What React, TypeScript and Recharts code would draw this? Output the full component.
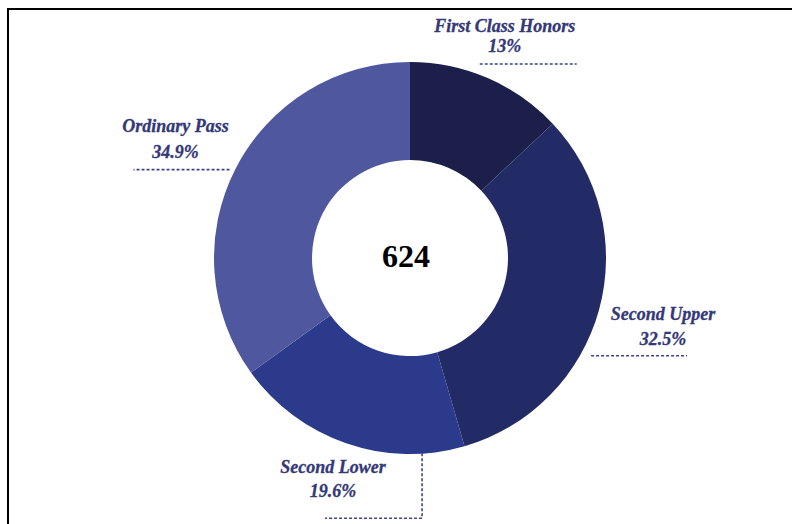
import { PieChart, Pie, Cell } from 'recharts';

const categories = ['First Class Honors', 'Second Upper', 'Second Lower', 'Ordinary Pass'];
const counts = [81, 203, 122, 218];
const percentLabels = ['13%', '32.5%', '19.6%', '34.9%'];
const totalLabel = '624';

const sliceColors = ['#1b1f4a', '#232b66', '#2b3a8a', '#4f589e'];
const textColor = '#343877';
const leaderColor = '#3f4486';

// label placement, relative to the point on the outer edge at each slice's mid angle
const labelLayout = [
  { tx: 17, nameY: -46, pctY: -26, line: [[-8, -14], [89, -14]] },
  { tx: 64, nameY: 10, pctY: 35, line: [[-8, 46], [88, 46]] },
  { tx: -13, nameY: 30, pctY: 54, line: [[76, 10], [76, 75], [-21, 75]] },
  { tx: -60, nameY: -37, pctY: -11, line: [[-6, 1], [-102, 1]] },
];

const data = categories.map((name, i) => ({ name, value: counts[i], pct: percentLabels[i] }));

const RADIAN = Math.PI / 180;
const labelFont = { fontFamily: '"Liberation Serif", serif', fontSize: 18, fontWeight: 'bold', fontStyle: 'italic' };

const renderLabel = (props: any) => {
  const { cx, cy, midAngle, outerRadius, index } = props;
  const ax = cx + outerRadius * Math.cos(-midAngle * RADIAN);
  const ay = cy + outerRadius * Math.sin(-midAngle * RADIAN);
  const lay = labelLayout[index];
  const pts = lay.line.map(([dx, dy]) => `${ax + dx},${ay + dy}`).join(' ');
  return (
    <g key={`lbl-${index}`}>
      <polyline points={pts} fill="none" stroke={leaderColor} strokeWidth={1.6} strokeDasharray="3 2" />
      <text x={ax + lay.tx} y={ay + lay.nameY} textAnchor="middle" fill={textColor} stroke={textColor} strokeWidth={0.3} style={labelFont}>
        {data[index].name}
      </text>
      <text x={ax + lay.tx} y={ay + lay.pctY} textAnchor="middle" fill={textColor} stroke={textColor} strokeWidth={0.3} style={labelFont}>
        {data[index].pct}
      </text>
    </g>
  );
};

export default function App() {
  return (
    <div style={{ position: 'fixed', left: 0, top: 0, width: 792, height: 524, overflow: 'hidden', background: '#fff' }}>
      <div
        style={{
          position: 'absolute',
          left: 7,
          top: 8,
          width: 820,
          height: 560,
          border: '2px solid #000',
        }}
      />
      <div style={{ position: 'absolute', left: 0, top: 0 }}>
        <PieChart width={792} height={524}>
          <Pie
            data={data}
            dataKey="value"
            nameKey="name"
            cx={405}
            cy={253}
            innerRadius={98}
            outerRadius={196}
            startAngle={90}
            endAngle={-270}
            stroke="none"
            label={renderLabel}
            labelLine={false}
            isAnimationActive={false}
          >
            {data.map((d, i) => (
              <Cell key={d.name} fill={sliceColors[i]} />
            ))}
          </Pie>
          <text
            x={406}
            y={256}
            textAnchor="middle"
            dominantBaseline="central"
            fill="#000"
            style={{ fontFamily: '"Liberation Serif", serif', fontSize: 32, fontWeight: 'bold' }}
          >
            {totalLabel}
          </text>
        </PieChart>
      </div>
    </div>
  );
}
